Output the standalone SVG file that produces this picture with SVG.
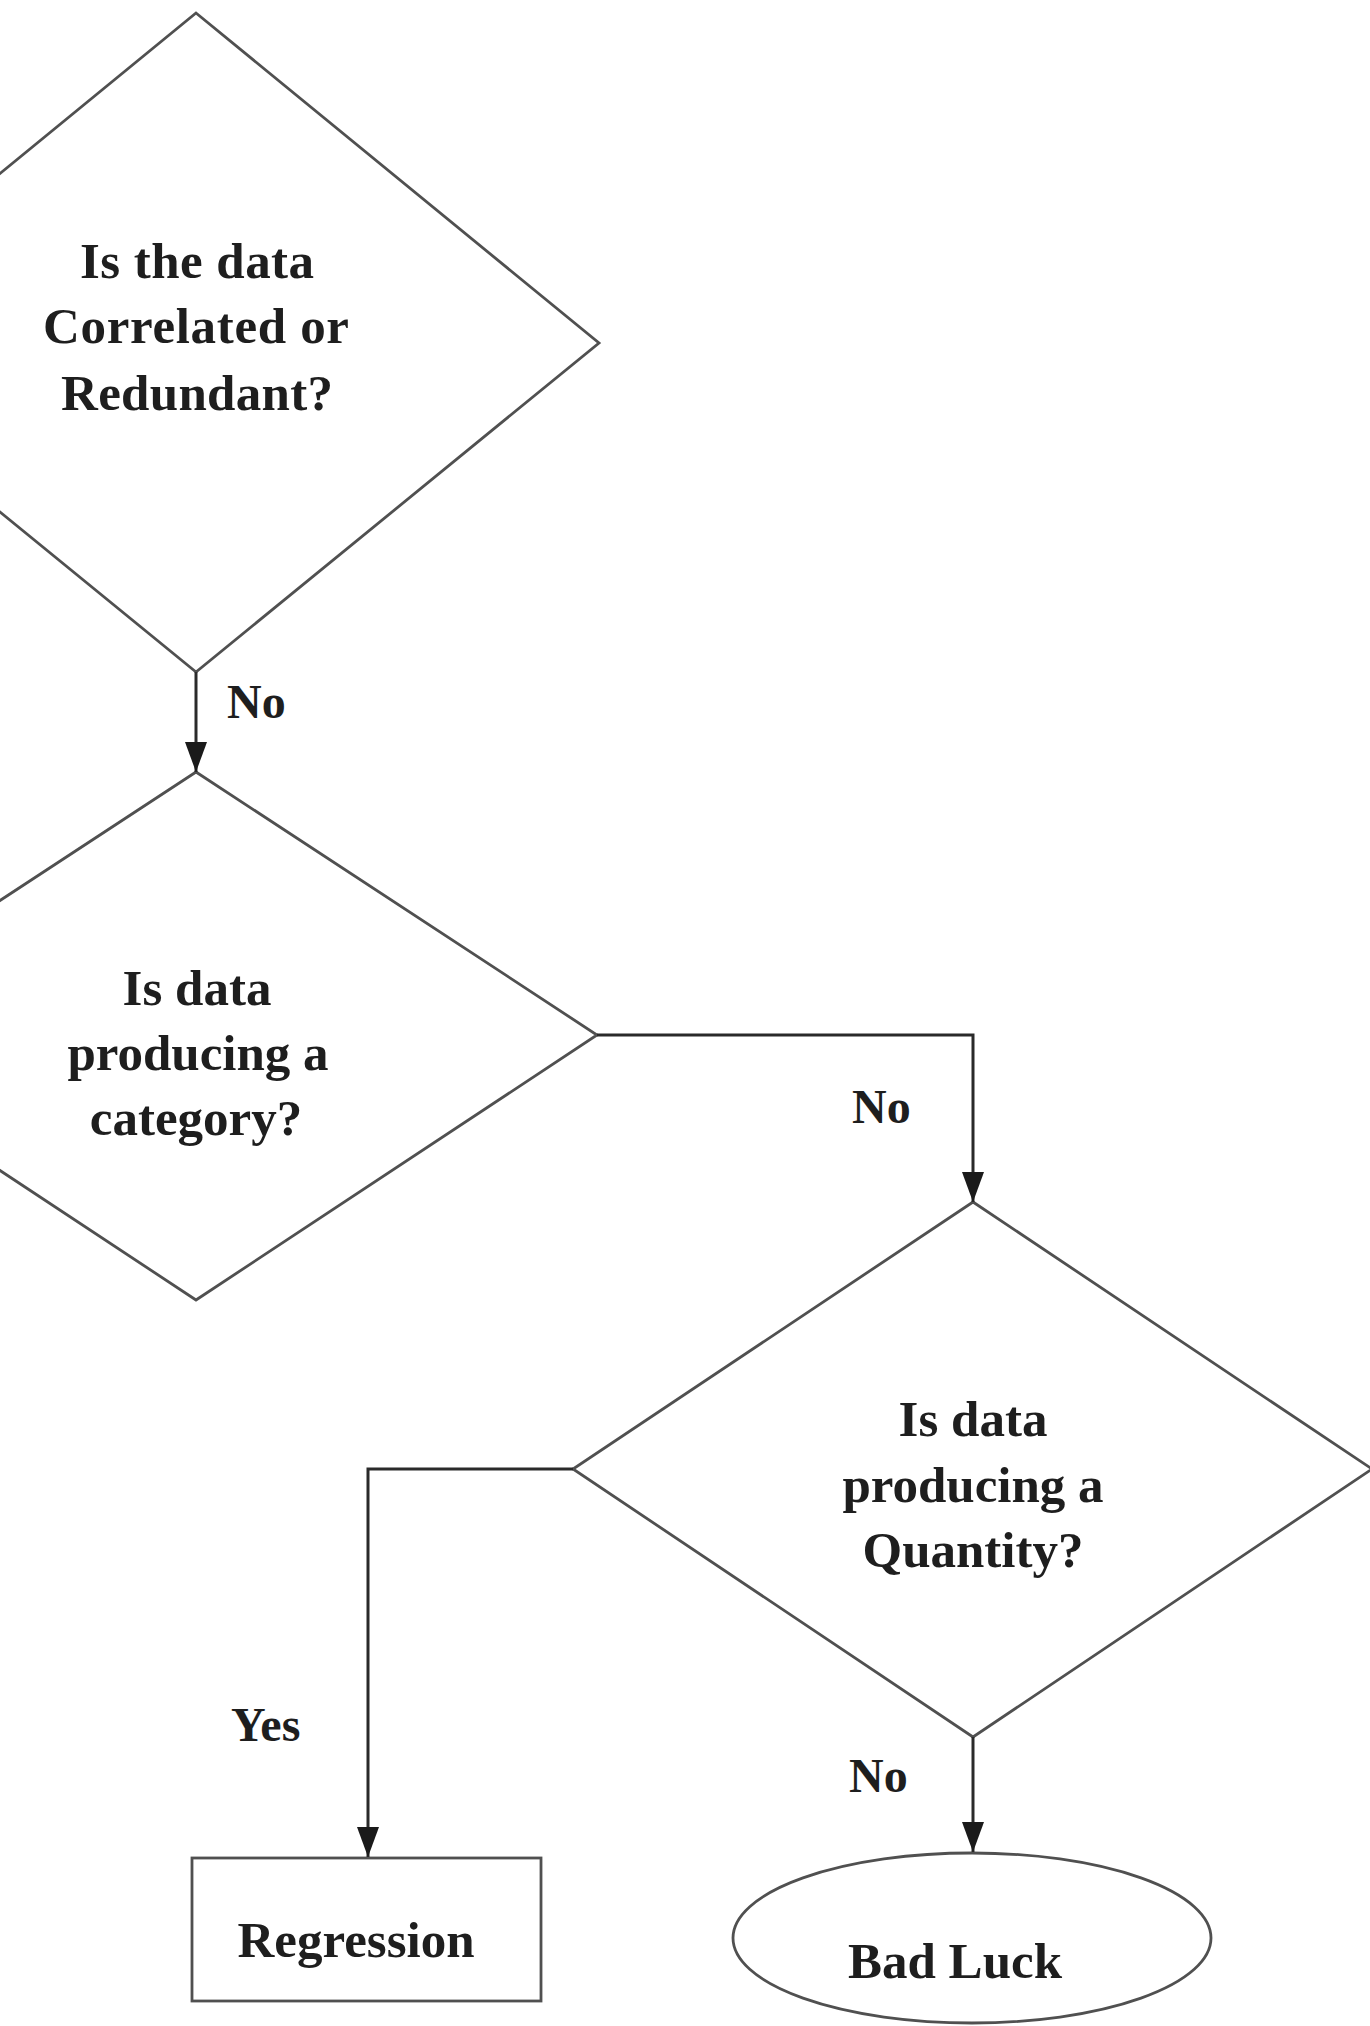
<svg xmlns="http://www.w3.org/2000/svg" width="1370" height="2026" viewBox="0 0 1370 2026">
<defs>
<style>
.shape{fill:none;stroke:#505050;stroke-width:2.8}
.conn{fill:none;stroke:#2a2a2a;stroke-width:3}
.t{font-family:"Liberation Serif","Times New Roman",serif;font-weight:bold;font-size:51px;fill:#1e1e1e;text-anchor:middle}
.lbl{font-family:"Liberation Serif","Times New Roman",serif;font-weight:bold;font-size:48px;fill:#1e1e1e}
</style>
<marker id="arr" markerUnits="userSpaceOnUse" markerWidth="30" markerHeight="22" refX="30" refY="11" orient="auto">
<path d="M0,0 L30,11 L0,22 z" fill="#1a1a1a"/>
</marker>
</defs>
<rect width="1370" height="2026" fill="#ffffff"/>
<g id="q1">
<polygon class="shape" points="196,13 599,343 196,672 -207,343"/>
<text class="t" x="197" y="278" font-size="48" textLength="234" lengthAdjust="spacing">Is the data</text>
<text class="t" x="196" y="343" font-size="48" textLength="306" lengthAdjust="spacing">Correlated or</text>
<text class="t" x="197" y="410" font-size="48" textLength="272" lengthAdjust="spacing">Redundant?</text>
</g>
<g id="q2">
<polygon class="shape" points="196,772 597,1035 196,1300 -205,1035"/>
<text class="t" x="197" y="1005">Is data</text>
<text class="t" x="198" y="1070">producing a</text>
<text class="t" x="196" y="1135">category?</text>
</g>
<g id="q3">
<polygon class="shape" points="973,1202 1372,1469 973,1737 573,1469"/>
<text class="t" x="973" y="1436">Is data</text>
<text class="t" x="973" y="1502">producing a</text>
<text class="t" x="973" y="1567">Quantity?</text>
</g>
<g id="regression">
<rect class="shape" x="192" y="1858" width="349" height="143"/>
<text class="t" x="356" y="1957">Regression</text>
</g>
<g id="badluck">
<ellipse class="shape" cx="972" cy="1938" rx="239" ry="85"/>
<text class="t" x="955" y="1978">Bad Luck</text>
</g>
<g id="connectors">
<path class="conn" d="M196,672 L196,772" marker-end="url(#arr)"/>
<path class="conn" d="M597,1035 L973,1035 L973,1202" marker-end="url(#arr)"/>
<path class="conn" d="M573,1469 L368,1469 L368,1857" marker-end="url(#arr)"/>
<path class="conn" d="M973,1737 L973,1852" marker-end="url(#arr)"/>
<text class="lbl" x="227" y="718">No</text>
<text class="lbl" x="852" y="1123">No</text>
<text class="lbl" x="231" y="1741">Yes</text>
<text class="lbl" x="849" y="1792">No</text>
</g>
</svg>
